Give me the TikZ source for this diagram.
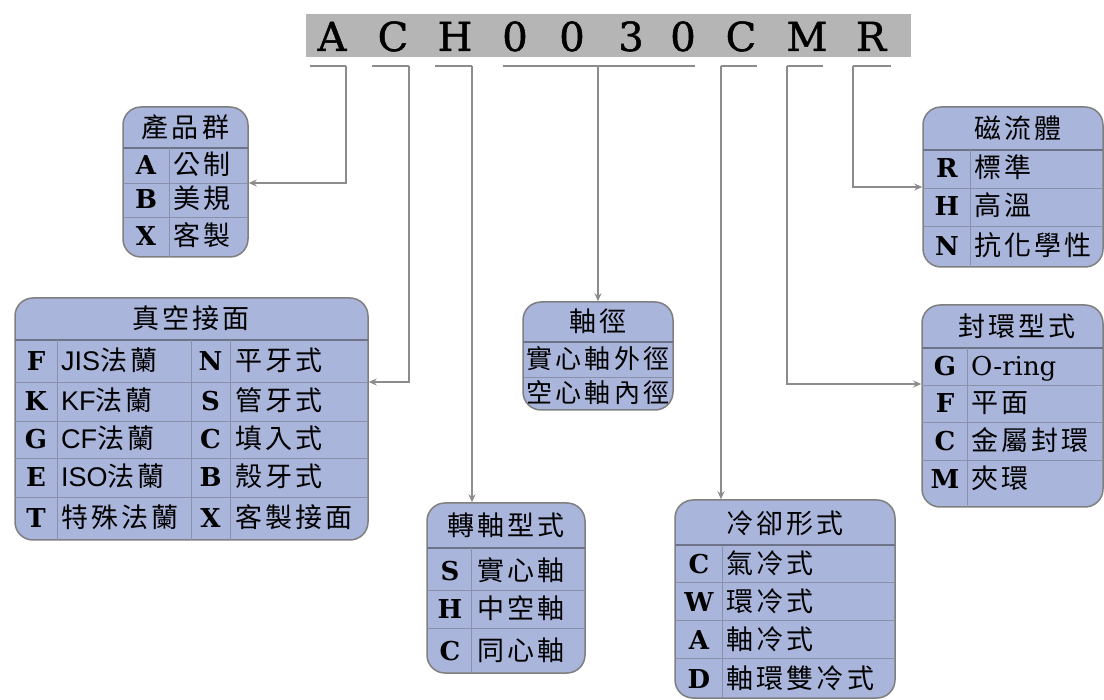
\documentclass[tikz,border=0pt]{standalone}
\usepackage{fontspec}
\setmainfont{DejaVu Serif}
\newfontfamily\cjk[LetterSpace=12]{Noto Sans CJK TC}
\newfontfamily\lsans{Liberation Sans}
\newfontfamily\topserif[FakeBold=1.2]{DejaVu Serif}
\usetikzlibrary{arrows.meta}
\definecolor{boxfill}{HTML}{A9B5DB}
\definecolor{boxdraw}{HTML}{7F7F7F}
\definecolor{sepline}{HTML}{6E7388}
\definecolor{rowline}{HTML}{8990A8}
\definecolor{barfill}{HTML}{B5B5B5}
\definecolor{connc}{HTML}{8C8C8C}
\tikzset{
  panel/.style={draw=boxdraw, line width=1.5pt, fill=boxfill, rounded corners=18pt, inner sep=0pt},
  hdr/.style={font=\cjk\fontsize{27}{27}\selectfont, anchor=base, inner sep=0pt},
  codel/.style={font=\bfseries\fontsize{26}{26}\selectfont, anchor=base, inner sep=0pt},
  item/.style={font=\cjk\fontsize{27}{27}\selectfont, anchor=base west, inner sep=0pt},
  topl/.style={font=\topserif\fontsize{40}{40}\selectfont, anchor=base, inner sep=0pt},
  connl/.style={draw=connc, line width=1.8pt},
  arr/.style={connl, -{Stealth[length=8pt,width=7pt]}},
  sepl/.style={draw=sepline, line width=1.6pt},
  rowl/.style={draw=rowline, line width=0.8pt},
}
\begin{document}
\begin{tikzpicture}[x=1pt,y=-1pt]
\useasboundingbox (0,0) rectangle (1104,700);
\clip (0,0) rectangle (1104,700);

% code bar
\node[fill=barfill, minimum width=605pt, minimum height=43pt, inner sep=0pt] (bar) at (608.5,35.5) {};
\foreach \ch/\x [count=\i] in {A/332,C/393,H/455,0/515,0/572,3/631,0/683,C/741,M/807,R/871}
  \node[topl] (L\i) at (\x,51) {\ch};

% ticks
\coordinate (tA1) at (310,66); \coordinate (tA2) at (346,66);
\coordinate (tC1) at (372,66); \coordinate (tC2) at (409,66);
\coordinate (tH1) at (435,66); \coordinate (tH2) at (472,66);
\coordinate (tN1) at (503,66); \coordinate (tN2) at (695,66); \coordinate (tN) at (598,66);
\coordinate (tK1) at (721,66); \coordinate (tK2) at (757,66);
\coordinate (tM1) at (787,66); \coordinate (tM2) at (823,66);
\coordinate (tR1) at (853,66); \coordinate (tR2) at (891,66);
\foreach \a/\b in {tA1/tA2,tC1/tC2,tH1/tH2,tN1/tN2,tK1/tK2,tM1/tM2,tR1/tR2}
  \draw[connl] (\a) -- (\b);

% ---------- panel 1: 產品群
\node[panel, minimum width=125pt, minimum height=150pt] (p1) at (185.5,182) {};
\draw[sepl] (123,148) -- (248,148);
\draw[rowl] (123,183) -- (248,183) (123,217) -- (248,217) (169,148) -- (169,257);
\node[hdr] (h1) at (185.5,138) {產品群};
\foreach \c/\t/\y [count=\i] in {A/公制/175, B/美規/209, X/客製/246}{
  \node[codel] (c1\i) at (146,\y) {\c};
  \node[item] (i1\i) at (173,\y) {\t};
}

% ---------- panel 2: 真空接面
\node[panel, minimum width=353pt, minimum height=242pt] (p2) at (191.5,419) {};
\draw[sepl] (15,340) -- (368,340);
\draw[rowl] (15,382) -- (368,382) (15,421) -- (368,421) (15,458) -- (368,458) (15,497) -- (368,497)
  (57,340) -- (57,540) (191,340) -- (191,540) (230,340) -- (230,540);
\node[hdr] (h2) at (191,329) {真空接面};
\foreach \c/\t/\d/\u/\y [count=\i] in {F/{{\lsans JIS}法蘭}/N/平牙式/371, K/{{\lsans KF}法蘭}/S/管牙式/411,
   G/{{\lsans CF}法蘭}/C/填入式/449, E/{{\lsans ISO}法蘭}/B/殼牙式/487, T/特殊法蘭/X/客製接面/528}{
  \node[codel] (c2\i) at (36,\y) {\c};
  \node[item] (i2\i) at (61,\y) {\t};
  \node[codel] (d2\i) at (210.5,\y) {\d};
  \node[item] (j2\i) at (235,\y) {\u};
}

% ---------- panel 3: 軸徑
\node[panel, minimum width=150pt, minimum height=108pt] (p3) at (598,356) {};
\draw[sepl] (523,342) -- (673,342);
\draw[rowl] (523,377) -- (673,377);
\node[hdr] (h3) at (598,332) {軸徑};
\node[hdr, font=\cjk\fontsize{26}{26}\selectfont] (i31) at (598,369) {實心軸外徑};
\node[hdr, font=\cjk\fontsize{26}{26}\selectfont] (i32) at (598,403) {空心軸內徑};

% ---------- panel 4: 磁流體
\node[panel, minimum width=180pt, minimum height=160pt] (p4) at (1013,187) {};
\draw[sepl] (923,150) -- (1103,150);
\draw[rowl] (923,188) -- (1103,188) (923,226) -- (1103,226) (970,150) -- (970,267);
\node[hdr] (h4) at (1018,139) {磁流體};
\foreach \c/\t/\y [count=\i] in {R/標準/178, H/高溫/216, N/抗化學性/256}{
  \node[codel] (c4\i) at (947,\y) {\c};
  \node[item] (i4\i) at (974,\y) {\t};
}

% ---------- panel 5: 封環型式
\node[panel, minimum width=181pt, minimum height=202pt] (p5) at (1012.5,406) {};
\draw[sepl] (922,348) -- (1103,348);
\draw[rowl] (922,385) -- (1103,385) (922,422) -- (1103,422) (922,460) -- (1103,460) (967,348) -- (967,507);
\node[hdr] (h5) at (1017,337) {封環型式};
\foreach \c/\t/\y [count=\i] in {G/{\normalfont\fontsize{26}{26}\selectfont O-ring}/376, F/平面/413, C/金屬封環/451, M/夾環/489}{
  \node[codel] (c5\i) at (945,\y) {\c};
  \node[item] (i5\i) at (971,\y) {\t};
}

% ---------- panel 6: 轉軸型式
\node[panel, minimum width=158pt, minimum height=170pt] (p6) at (506,588) {};
\draw[sepl] (427,548) -- (585,548);
\draw[rowl] (427,590) -- (585,590) (427,628) -- (585,628) (471,548) -- (471,673);
\node[hdr] (h6) at (506,536) {轉軸型式};
\foreach \c/\t/\y [count=\i] in {S/實心軸/580, H/中空軸/618, C/同心軸/660}{
  \node[codel] (c6\i) at (450,\y) {\c};
  \node[item] (i6\i) at (477,\y) {\t};
}

% ---------- panel 7: 冷卻形式
\node[panel, minimum width=220pt, minimum height=198pt] (p7) at (785,599) {};
\draw[sepl] (675,545) -- (895,545);
\draw[rowl] (675,582) -- (895,582) (675,620) -- (895,620) (675,658) -- (895,658) (722,545) -- (722,698);
\node[hdr] (h7) at (785,533) {冷卻形式};
\foreach \c/\t/\y [count=\i] in {C/氣冷式/573, W/環冷式/611, A/軸冷式/649, D/軸環雙冷式/688}{
  \node[codel] (c7\i) at (699,\y) {\c};
  \node[item] (i7\i) at (726,\y) {\t};
}

% ---------- connectors
\draw[arr] (tA2) |- (p1.east |- 0,183);
\draw[arr] (tC2) |- (p2.east |- 0,382);
\draw[arr] (tH2) -- (tH2 |- p6.north);
\draw[arr] (tN) -- (p3.north);
\draw[arr] (tK1) -- (tK1 |- p7.north);
\draw[arr] (tM1) |- (p5.west |- 0,384);
\draw[arr] (tR1) |- (p4.west |- 0,187);
\end{tikzpicture}
\end{document}
